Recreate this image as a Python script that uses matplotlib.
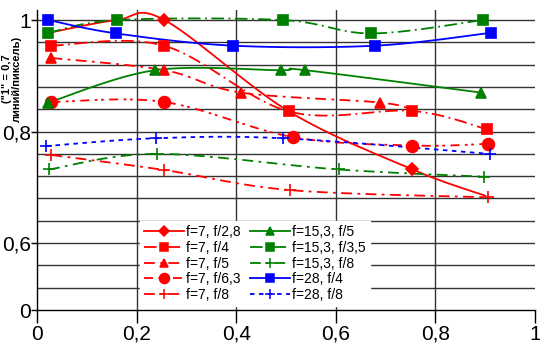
import numpy as np
import matplotlib
matplotlib.use("Agg")
import matplotlib.pyplot as plt

plt.rcParams['font.family'] = ['Liberation Sans', 'DejaVu Sans']

# данные (положение по кадру -> разрешение)
x_f7_28 = [0.023, 0.16, 0.256, 0.506, 0.754, 0.9]
y_f7_28 = [0.977, 1.0, 1.0, 0.836, 0.732, 0.685]
x_f7_4 = [0.028, 0.255, 0.506, 0.754, 0.904]
y_f7_4 = [0.954, 0.954, 0.836, 0.837, 0.804]
x_f7_5 = [0.029, 0.256, 0.409, 0.689, 0.754]
y_f7_5 = [0.932, 0.91, 0.870, 0.852, 0.838]
x_f7_63 = [0.029, 0.256, 0.514, 0.754, 0.906]
y_f7_63 = [0.853, 0.853, 0.79, 0.775, 0.778]
x_f7_8 = [0.029, 0.256, 0.509, 0.906]
y_f7_8 = [0.758, 0.731, 0.695, 0.682]
x_f15_5 = [0.023, 0.237, 0.489, 0.539, 0.891]
y_f15_5 = [0.852, 0.91, 0.91, 0.91, 0.87]
x_f15_35 = [0.023, 0.161, 0.493, 0.671, 0.896]
y_f15_35 = [0.977, 1.0, 1.0, 0.976, 1.0]
x_f15_8 = [0.024, 0.241, 0.606, 0.898]
y_f15_8 = [0.732, 0.76, 0.732, 0.719]
x_f28_4 = [0.023, 0.159, 0.394, 0.679, 0.911]
y_f28_4 = [1.0, 0.976, 0.954, 0.954, 0.977]
x_f28_8 = [0.019, 0.239, 0.493, 0.909]
y_f28_8 = [0.774, 0.788, 0.788, 0.76]

labels = ['f=7, f/2,8', 'f=7, f/4', 'f=7, f/5', 'f=7, f/6,3', 'f=7, f/8',
          'f=15,3, f/5', 'f=15,3, f/3,5', 'f=15,3, f/8', 'f=28, f/4', 'f=28, f/8']


def smooth(xs, ys, n=30):
    # сглаживание как в Excel (безье через соседние точки)
    p = np.column_stack([xs, ys]).astype(float)
    pts = [p[0]]
    for i in range(len(p) - 1):
        p0 = p[i - 1] if i > 0 else p[i]
        p1 = p[i]
        p2 = p[i + 1]
        p3 = p[i + 2] if i + 2 < len(p) else p[i + 1]
        c1 = p1 + (p2 - p0) / 6
        c2 = p2 - (p3 - p1) / 6
        t = np.linspace(0, 1, n)[1:, None]
        seg = ((1 - t) ** 3) * p1 + 3 * ((1 - t) ** 2) * t * c1 + 3 * (1 - t) * t ** 2 * c2 + t ** 3 * p2
        pts.extend(seg)
    pts = np.array(pts)
    return pts[:, 0], pts[:, 1]


fig = plt.figure(figsize=(5.4, 3.51), dpi=100)
ax = fig.add_axes([37 / 540, 41 / 351, 498 / 540, 300 / 351])

R, G, B = '#ff0000', '#008000', '#0000ff'
series = [
    (x_f7_28, y_f7_28, R, '-', 'D', 6, [2, 4]),
    (x_f7_4, y_f7_4, R, (0, (7, 2.5, 1, 2.5)), 's', 7, None),
    (x_f7_5, y_f7_5, R, (0, (6, 3, 1.5, 3)), '^', 7, [0, 1, 2, 3]),
    (x_f7_63, y_f7_63, R, (0, (5, 3, 1.5, 2, 1.5, 3)), 'o', 8.5, None),
    (x_f7_8, y_f7_8, R, (0, (6, 3, 1.5, 3)), '+', 8, None),
    (x_f15_5, y_f15_5, G, '-', '^', 7, None),
    (x_f15_35, y_f15_35, G, (0, (7, 2.5, 1, 2.5)), 's', 7, None),
    (x_f15_8, y_f15_8, G, (0, (6, 3, 1.5, 3)), '+', 8, None),
    (x_f28_4, y_f28_4, B, '-', 's', 7, None),
    (x_f28_8, y_f28_8, B, (0, (2.5, 2.5)), '+', 8, None),
]

handles = []
for (xs, ys, c, ls, mk, ms, me), lab in zip(series, labels):
    sx, sy = smooth(xs, ys)
    ax.plot(sx, sy, color=c, ls=ls, lw=1.3, zorder=3)
    idx = me if me is not None else list(range(len(xs)))
    ax.plot(np.array(xs)[idx], np.array(ys)[idx], ls='none', marker=mk, ms=ms,
            color=c, mew=1.2, zorder=4)
    h, = ax.plot([], [], color=c, ls=ls, lw=1.3, marker=mk, ms=ms * 0.85, mew=1.1)
    handles.append(h)

ax.set_xlim(0, 1)
ax.set_ylim(0.48, 1.018)
for yv in np.arange(0.52, 1.001, 0.04):
    ax.axhline(yv, color='#333333', lw=1, zorder=1)
for xv in [0.2, 0.4, 0.6, 0.8]:
    ax.axvline(xv, color='#333333', lw=1, zorder=1)

ax.set_xticks([0, 0.2, 0.4, 0.6, 0.8, 1])
ax.set_xticklabels(['0', '0,2', '0,4', '0,6', '0,8', '1'], fontsize=15)
ax.set_yticks([0.48, 0.6, 0.8, 1.0])
ax.set_yticklabels(['0', '0,6', '0,8', '1'], fontsize=15)
ax.tick_params(axis='x', direction='out', length=9, width=1, pad=1.5)
ax.tick_params(axis='y', direction='out', length=4, width=1, pad=0.5)
for s in ['top', 'right']:
    ax.spines[s].set_visible(False)
for s in ['left', 'bottom']:
    ax.spines[s].set_linewidth(1)

fig.text(12 / 540, 1 - 79 / 351, '("1" = 0,7\nлиний/пиксель)', rotation=90,
         ha='center', va='center', fontsize=8, fontweight='bold', linespacing=1.05)

leg = ax.legend(handles, labels, ncol=2, loc='lower left',
                bbox_to_anchor=(140 / 540, (351 - 306) / 351), bbox_transform=fig.transFigure,
                fontsize=10, frameon=True, fancybox=False, edgecolor='white', facecolor='white',
                framealpha=1, handlelength=2.9, handletextpad=0.1, labelspacing=0.12,
                columnspacing=0.7, borderpad=0.3, borderaxespad=0)
leg.set_zorder(5)

fig.savefig('out.png', dpi=100)
